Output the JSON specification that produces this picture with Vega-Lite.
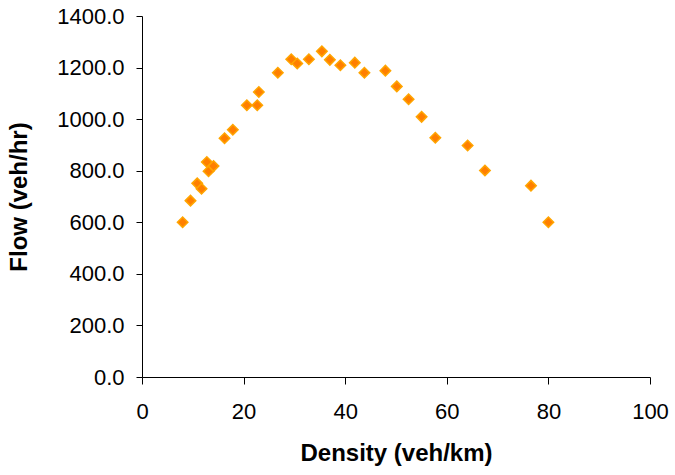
{
  "$schema": "https://vega.github.io/schema/vega-lite/v6.json",
  "autosize": "none",
  "width": 508,
  "height": 361,
  "padding": {"left": 142, "top": 16, "right": 25, "bottom": 98},
  "background": "white",
  "config": {
    "view": {"stroke": null},
    "font": "Liberation Sans",
    "axis": {
      "grid": false,
      "domainColor": "#000000",
      "tickColor": "#000000",
      "labelColor": "#000000",
      "titleColor": "#000000",
      "labelFont": "Liberation Sans",
      "titleFont": "Liberation Sans",
      "labelFontSize": 22,
      "titleFontSize": 24,
      "titleFontWeight": "bold",
      "domainWidth": 1,
      "tickWidth": 1
    }
  },
  "data": {
    "values": [
      {"density": 8.0, "flow": 600},
      {"density": 9.55, "flow": 684},
      {"density": 10.87, "flow": 751},
      {"density": 11.72, "flow": 730},
      {"density": 12.76, "flow": 834},
      {"density": 13.1, "flow": 798},
      {"density": 14.08, "flow": 818},
      {"density": 16.25, "flow": 926},
      {"density": 17.88, "flow": 959},
      {"density": 20.64, "flow": 1054},
      {"density": 22.69, "flow": 1054},
      {"density": 23.0, "flow": 1105},
      {"density": 26.74, "flow": 1180},
      {"density": 29.38, "flow": 1232},
      {"density": 30.56, "flow": 1216},
      {"density": 32.85, "flow": 1232},
      {"density": 35.41, "flow": 1263},
      {"density": 36.98, "flow": 1230},
      {"density": 39.05, "flow": 1209},
      {"density": 41.89, "flow": 1219},
      {"density": 43.78, "flow": 1180},
      {"density": 47.91, "flow": 1188},
      {"density": 50.16, "flow": 1127},
      {"density": 52.48, "flow": 1077},
      {"density": 55.04, "flow": 1009},
      {"density": 57.74, "flow": 928},
      {"density": 64.1, "flow": 898},
      {"density": 67.51, "flow": 801},
      {"density": 76.57, "flow": 742},
      {"density": 80.0, "flow": 600}
    ]
  },
  "mark": {
    "type": "point",
    "shape": "diamond",
    "filled": true,
    "size": 110,
    "fill": "#FF7F00",
    "stroke": "#FFA500",
    "strokeWidth": 1.5,
    "opacity": 1
  },
  "encoding": {
    "x": {
      "field": "density",
      "type": "quantitative",
      "scale": {"domain": [0, 100], "nice": false, "zero": true},
      "axis": {
        "title": "Density (veh/km)",
        "values": [0, 20, 40, 60, 80, 100],
        "tickSize": 7,
        "labelPadding": 17,
        "titlePadding": 19,
        "labelFlush": false
      }
    },
    "y": {
      "field": "flow",
      "type": "quantitative",
      "scale": {"domain": [0, 1400], "nice": false},
      "axis": {
        "title": "Flow (veh/hr)",
        "values": [0, 200, 400, 600, 800, 1000, 1200, 1400],
        "format": ".1f",
        "tickSize": 6,
        "labelPadding": 12,
        "titlePadding": 25,
        "labelFlush": false
      }
    }
  }
}
